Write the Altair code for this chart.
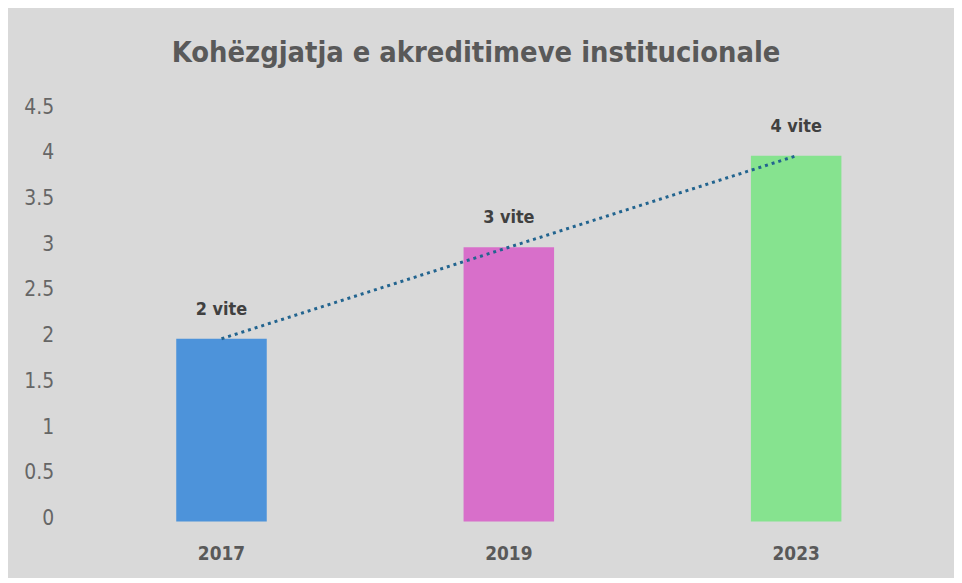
import altair as alt
import pandas as pd

years = ["2017", "2019", "2023"]
values = [2, 3, 4]
labels = ["2 vite", "3 vite", "4 vite"]
colors = ["#4d93da", "#d86fca", "#86e38f"]
y_ticks = [0, 0.5, 1, 1.5, 2, 2.5, 3, 3.5, 4, 4.5]

df = pd.DataFrame({"year": years, "value": values, "label": labels, "color": colors})

FONT = "Liberation Sans Narrow, Arial Narrow, DejaVu Sans Condensed, sans-serif"

x = alt.X("year:N", title=None, sort=years,
          scale=alt.Scale(paddingInner=0.685, paddingOuter=0.34),
          axis=alt.Axis(labelAngle=0, ticks=False, domain=False, labelFont=FONT,
                        labelFontSize=19, labelFontWeight="bold", labelColor="#595959",
                        labelPadding=23))
y = alt.Y("value:Q", title=None,
          scale=alt.Scale(domain=[0, 4.5], nice=False),
          axis=alt.Axis(values=y_ticks, ticks=False, format="~g",
                        domain=False, grid=False, labelFont=FONT, labelFontSize=21,
                        labelColor="#666666", labelPadding=25, labelOffset=-3))

bars = alt.Chart(df).mark_bar().encode(
    x=x, y=y, color=alt.Color("color:N", scale=None)
)

text = alt.Chart(df).mark_text(dy=-29, font=FONT, fontSize=18, fontWeight="bold",
                               color="#404040", baseline="middle").encode(
    x=alt.X("year:N", sort=years), y="value:Q", text="label:N"
)

trend = alt.Chart(df).mark_line(color="#22648f", strokeWidth=3, strokeDash=[3, 4]).encode(
    x=alt.X("year:N", sort=years), y="value:Q"
)

chart = alt.layer(bars, trend, text).properties(
    width=866, height=414,
    autosize=alt.AutoSizeParams(type="none"),
    padding={"left": 71, "top": 101, "right": 15, "bottom": 55},
    background="#d9d9d9",
    title=alt.Title("Kohëzgjatja e akreditimeve institucionale", font=FONT, fontSize=29,
                    fontWeight="bold", color="#595959", offset=28, dx=-33),
).configure_view(stroke=None)

chart.save("out.html", embed_options={"renderer": "svg", "actions": False})
